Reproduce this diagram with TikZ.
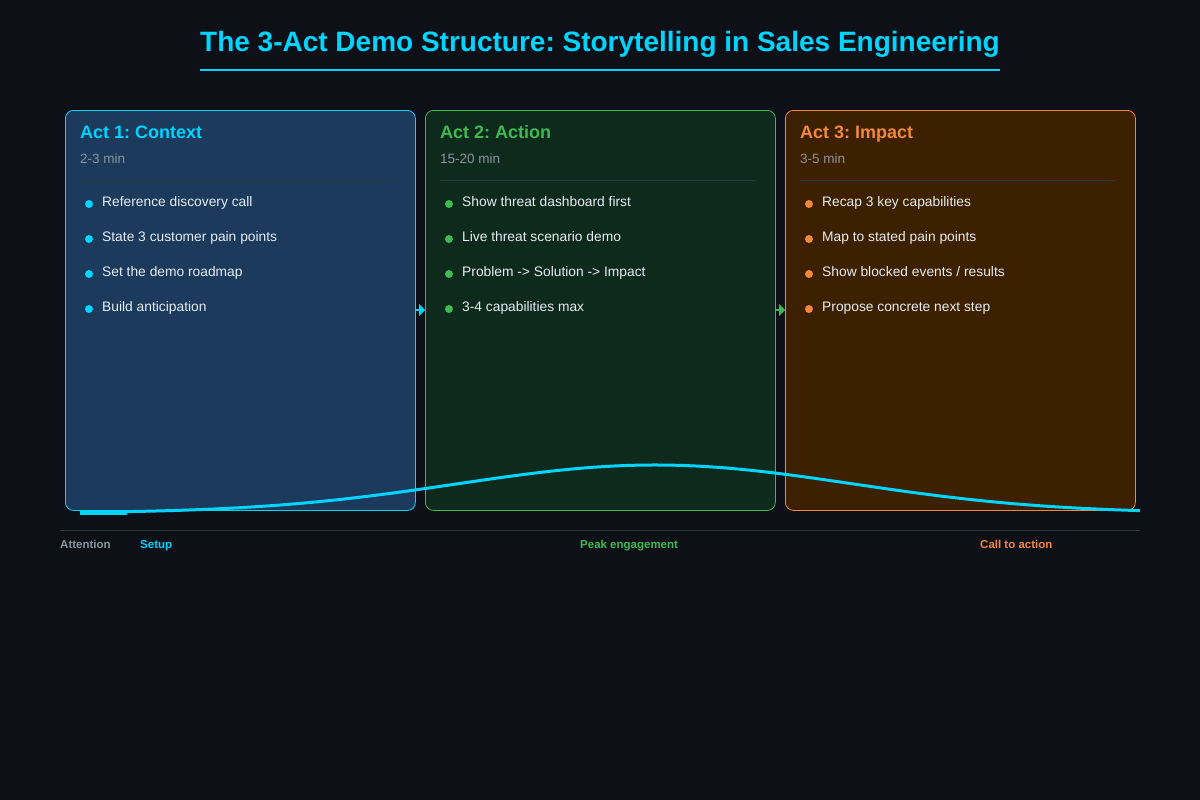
\documentclass[tikz,border=0pt]{standalone}
\usepackage{fontspec}
\setmainfont{Liberation Sans}
\usetikzlibrary{arrows.meta}
\frenchspacing
\definecolor{bg}{HTML}{0D1117}
\definecolor{cy}{HTML}{00D4FF}
\definecolor{gr}{HTML}{3FB950}
\definecolor{orn}{HTML}{F0883E}
\definecolor{gy}{HTML}{8B949E}
\definecolor{txt}{HTML}{E6EDF3}
\definecolor{sep}{HTML}{30363D}
\definecolor{fa}{HTML}{1B3A5C}
\definecolor{fb}{HTML}{0E2A1D}
\definecolor{fc}{HTML}{3D2000}
\tikzset{
  actbox/.style={draw, line width=0.8pt, rounded corners=8pt, minimum width=350pt, minimum height=400pt, anchor=north west, inner sep=0pt},
  acttitle/.style={anchor=base west, inner sep=0pt, font=\fontsize{18}{20}\selectfont\bfseries},
  dur/.style={anchor=base west, inner sep=0pt, text=gy, font=\fontsize{13.5}{16}\selectfont},
  item/.style={anchor=base west, inner sep=0pt, text=txt, font=\fontsize{13.8}{16}\selectfont},
  dot/.style={circle, inner sep=0pt, minimum size=8pt},
  foot/.style={anchor=base west, inner sep=0pt, font=\fontsize{11.5}{14}\selectfont\bfseries},
  flow/.style={line width=1.5pt, -{Triangle[length=6pt,width=12pt]}}
}
\begin{document}
\begin{tikzpicture}[x=1pt,y=-1pt]
\fill[bg] (0,0) rectangle (1200,800);
\useasboundingbox (0,0) rectangle (1200,800);
% title
\node[anchor=base, inner sep=0pt, text=cy, font=\fontsize{28}{32}\selectfont\bfseries] (title) at (600,52) {The 3-Act Demo Structure: Storytelling in Sales Engineering};
\draw[cy, line width=2pt] (200,70.5) -- (1000,70.5);
% boxes
\node[actbox, draw=cy, fill=fa] (act1) at (65,110) {};
\node[actbox, draw=gr, fill=fb] (act2) at (425,110) {};
\node[actbox, draw=orn, fill=fc] (act3) at (785,110) {};
% act 1
\node[acttitle, text=cy] (t1) at (80,139) {Act 1: Context};
\node[dur] (d1) at (80,163) {2-3 min};
\draw[sep, line width=1pt] (80,180.5) -- (396,180.5);
\foreach \i/\s in {0/{Reference discovery call},1/{State 3 customer pain points},2/{Set the demo roadmap},3/{Build anticipation}}{
  \node[dot, fill=cy] (a1d\i) at (89,204+35*\i) {};
  \node[item] (a1t\i) at (102,206+35*\i) {\s};
}
% act 2
\node[acttitle, text=gr] (t2) at (440,139) {Act 2: Action};
\node[dur] (d2) at (440,163) {15-20 min};
\draw[sep, line width=1pt] (440,180.5) -- (756,180.5);
\foreach \i/\s in {0/{Show threat dashboard first},1/{Live threat scenario demo},2/{Problem -> Solution -> Impact},3/{3-4 capabilities max}}{
  \node[dot, fill=gr] (a2d\i) at (449,204+35*\i) {};
  \node[item] (a2t\i) at (462,206+35*\i) {\s};
}
% act 3
\node[acttitle, text=orn] (t3) at (800,139) {Act 3: Impact};
\node[dur] (d3) at (800,163) {3-5 min};
\draw[sep, line width=1pt] (800,180.5) -- (1116,180.5);
\foreach \i/\s in {0/{Recap 3 key capabilities},1/{Map to stated pain points},2/{Show blocked events / results},3/{Propose concrete next step}}{
  \node[dot, fill=orn] (a3d\i) at (809,204+35*\i) {};
  \node[item] (a3t\i) at (822,206+35*\i) {\s};
}
% arrows between acts
\coordinate (ay) at (0,310);
\draw[flow, cy] (act1.east |- ay) -- (act2.west |- ay);
\draw[flow, gr] (act2.east |- ay) -- (act3.west |- ay);
% engagement curve
\draw[cy, line width=3pt] (80,513) -- (127,513);
\draw[cy, line width=3pt, line join=round] plot[domain=80:1140, samples=120, smooth] (\x, {513-48*exp(-((\x-655)/280)^2)});
% axis
\draw[sep, line width=1.2pt] (60,530.5) -- (1140,530.5);
\node[foot, text=gy] (f0) at (60,548) {Attention};
\node[foot, text=cy] (f1) at (140,548) {Setup};
\node[foot, text=gr] (f2) at (580,548) {Peak engagement};
\node[foot, text=orn] (f3) at (980,548) {Call to action};
\end{tikzpicture}
\end{document}
